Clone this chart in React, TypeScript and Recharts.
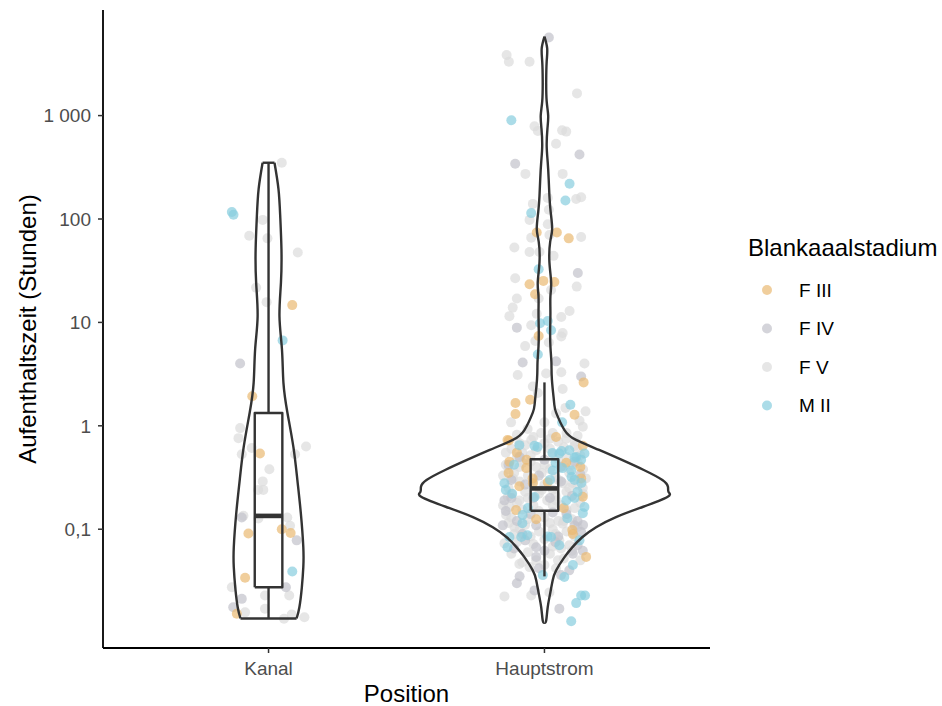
import React from 'react';
import { ScatterChart, Scatter, XAxis, YAxis, Legend } from 'recharts';

// ---------- data ----------
const categories = ['Kanal', 'Hauptstrom'];
const stadien = ['F III', 'F IV', 'F V', 'M II'];
const yTicks = [0.1, 1, 10, 100, 1000];
const yTickLabels = ['0,1', '1', '10', '100', '1 000'];

// [jitter (category units), Aufenthaltszeit (h), Stadium]
const kanalPoints: [number, number, string][] = [
  [0.048, 350, 'F V'], [-0.133, 117, 'M II'], [-0.127, 110, 'M II'], [-0.021, 98, 'F V'],
  [-0.07, 69, 'F V'], [-0.004, 65, 'F V'], [0.106, 47.5, 'F V'], [-0.045, 21.7, 'F V'],
  [-0.007, 15.7, 'F V'], [0.086, 14.7, 'F III'], [0.051, 6.7, 'M II'], [-0.103, 4.0, 'F IV'],
  [-0.059, 1.93, 'F III'], [-0.103, 0.95, 'F V'], [-0.109, 0.76, 'F V'], [-0.097, 0.53, 'F V'],
  [-0.061, 0.61, 'F V'], [-0.031, 0.54, 'F III'], [0.136, 0.63, 'F V'], [0.096, 0.53, 'F V'],
  [0.003, 0.38, 'F V'], [-0.021, 0.29, 'F V'], [-0.019, 0.24, 'F V'], [-0.038, 0.24, 'F V'],
  [-0.097, 0.13, 'F IV'], [-0.091, 0.135, 'F V'], [-0.037, 0.127, 'F V'], [0.068, 0.13, 'F V'],
  [0.078, 0.108, 'F V'], [0.048, 0.1, 'F III'], [0.08, 0.092, 'F III'], [-0.073, 0.091, 'F III'],
  [0.102, 0.078, 'F IV'], [0.086, 0.039, 'M II'], [-0.085, 0.034, 'F III'], [-0.133, 0.0275, 'F V'],
  [0.063, 0.0275, 'F IV'], [0.075, 0.0229, 'F V'], [-0.097, 0.0212, 'F IV'], [-0.013, 0.0229, 'F V'],
  [-0.013, 0.017, 'F V'], [-0.128, 0.0176, 'F IV'], [-0.115, 0.0152, 'F III'], [-0.085, 0.0157, 'F V'],
  [0.056, 0.0136, 'F V'], [0.084, 0.015, 'F V'], [0.13, 0.0141, 'F V'],
];

const hauptPoints: [number, number, string][] = [
  [0.016, 5700, 'F IV'], [-0.137, 3850, 'F V'], [-0.129, 3320, 'F V'], [-0.054, 3320, 'F V'],
  [0.118, 1640, 'F V'], [-0.12, 900, 'M II'], [-0.036, 787, 'F V'], [-0.024, 710, 'F V'],
  [0.064, 720, 'F V'], [0.079, 700, 'F V'], [0.042, 535, 'F V'], [0.127, 421, 'F IV'],
  [-0.106, 342, 'F IV'], [-0.069, 273, 'F V'], [0.066, 273, 'F V'], [0.091, 219, 'M II'],
  [0.012, 160, 'F V'], [0.076, 151, 'M II'], [0.115, 156, 'F V'], [0.133, 162, 'F V'],
  [-0.042, 140, 'F V'], [-0.048, 114, 'M II'], [-0.054, 98, 'F V'], [0.016, 123, 'F V'],
  [0.012, 89, 'F V'], [-0.028, 74, 'F III'], [0.045, 74, 'F III'], [-0.048, 66, 'F V'],
  [0.018, 70, 'F V'], [0.088, 65, 'F III'], [0.133, 67, 'F V'], [-0.109, 53, 'F V'],
  [-0.054, 48, 'F V'], [-0.018, 48, 'F V'], [0.033, 44, 'F V'], [-0.021, 32.7, 'M II'],
  [0.121, 30, 'F IV'], [-0.106, 26.7, 'F V'], [-0.054, 23.4, 'F III'], [-0.004, 25.2, 'F III'],
  [0.036, 24.6, 'F III'], [0.024, 20.6, 'F V'], [0.117, 22.2, 'F V'], [-0.034, 18.7, 'F III'],
  [-0.021, 17, 'F V'], [-0.1, 17, 'F V'], [-0.115, 13.9, 'F V'], [0.091, 12.9, 'F V'],
  [-0.127, 11.5, 'F V'], [0.061, 11.3, 'F V'], [-0.028, 12.1, 'F V'], [-0.016, 9.8, 'M II'],
  [0.012, 10.3, 'M II'], [0.024, 8.4, 'M II'], [-0.048, 9.4, 'F V'], [-0.1, 8.9, 'F IV'],
  [0.066, 7.9, 'F V'], [0.061, 7.3, 'F V'], [-0.021, 7.4, 'F III'], [-0.033, 6.6, 'F V'],
  [0.016, 6.4, 'F V'], [-0.07, 5.9, 'F V'], [-0.024, 4.9, 'M II'], [-0.079, 4.1, 'F IV'],
  [0.042, 4.2, 'F IV'], [0.145, 4.0, 'F V'], [-0.097, 3.1, 'F V'], [0.006, 3.2, 'F V'],
  [0.061, 3.3, 'F V'], [0.133, 3.0, 'F IV'], [0.142, 2.63, 'F III'], [-0.042, 2.4, 'F V'],
  [-0.024, 2.08, 'F V'], [0.066, 2.27, 'F V'], [-0.052, 1.79, 'F III'], [-0.105, 1.66, 'F III'],
  [-0.105, 1.3, 'F III'], [0.094, 1.6, 'M II'], [0.109, 1.28, 'F III'], [0.149, 1.38, 'F V'],
  [0.042, 1.32, 'F V'], [0.076, 1.49, 'F V'],
  // dense core
  [-0.121, 1.08, 'F V'], [0.064, 1.08, 'M II'], [0.127, 1.12, 'F V'], [0.139, 0.98, 'F V'],
  [0.0, 1.08, 'F V'], [-0.061, 0.93, 'F V'], [-0.012, 0.85, 'F V'], [0.03, 0.85, 'F V'],
  [-0.048, 0.73, 'F V'], [-0.129, 0.72, 'F III'], [-0.091, 0.68, 'F V'], [-0.036, 0.64, 'M II'],
  [0.042, 0.78, 'F III'], [0.079, 0.75, 'F V'], [0.109, 0.64, 'F V'], [0.139, 0.64, 'F III'],
  [0.054, 0.54, 'M II'], [0.115, 0.5, 'M II'], [0.145, 0.54, 'M II'], [0.133, 0.47, 'M II'],
  [-0.127, 0.45, 'F III'], [-0.091, 0.5, 'F V'], [-0.091, 0.4, 'F V'], [-0.066, 0.39, 'F III'],
  [0.079, 0.44, 'F III'], [0.03, 0.37, 'M II'], [0.097, 0.37, 'M II'], [0.133, 0.31, 'F III'],
  [-0.145, 0.278, 'M II'], [-0.115, 0.31, 'F V'], [-0.091, 0.26, 'F III'], [-0.042, 0.278, 'F III'],
  [0.012, 0.285, 'F III'], [0.066, 0.278, 'F V'], [0.109, 0.3, 'M II'], [0.139, 0.25, 'F V'],
  [-0.133, 0.206, 'F V'], [-0.145, 0.19, 'F IV'], [-0.091, 0.19, 'F V'], [-0.117, 0.22, 'M II'],
  [0.042, 0.19, 'F V'], [0.079, 0.19, 'M II'], [0.109, 0.2, 'M II'], [0.139, 0.206, 'F III'],
  [0.145, 0.164, 'M II'], [-0.103, 0.153, 'F III'], [-0.127, 0.164, 'F V'], [-0.079, 0.137, 'M II'],
  [-0.139, 0.137, 'F V'], [0.079, 0.148, 'F V'], [0.139, 0.143, 'M II'], [-0.151, 0.109, 'F IV'],
  [-0.109, 0.105, 'F V'], [-0.03, 0.109, 'F IV'], [0.066, 0.113, 'F V'], [0.109, 0.109, 'F IV'],
  [0.133, 0.094, 'F IV'], [-0.127, 0.084, 'M II'], [-0.084, 0.084, 'M II'], [0.024, 0.084, 'M II'],
  [0.054, 0.078, 'F V'], [0.103, 0.09, 'F III'], [0.127, 0.078, 'M II'], [-0.145, 0.073, 'F V'],
  [-0.03, 0.067, 'F IV'], [0.103, 0.058, 'F IV'], [0.139, 0.062, 'F IV'], [0.151, 0.054, 'F III'],
  [-0.091, 0.046, 'F V'], [-0.03, 0.054, 'F IV'], [0.049, 0.05, 'F V'], [-0.054, 0.043, 'F V'],
  [0.103, 0.045, 'M II'], [0.042, 0.042, 'F V'], [-0.006, 0.036, 'M II'], [0.072, 0.0345, 'M II'],
  [-0.145, 0.0224, 'F V'], [-0.036, 0.0256, 'F IV'], [0.018, 0.0245, 'F V'], [-0.048, 0.0229, 'F V'],
  [0.133, 0.0229, 'M II'], [0.147, 0.0229, 'M II'], [0.115, 0.0193, 'M II'], [0.054, 0.017, 'F IV'],
  [0.097, 0.0129, 'M II'],
  [-0.025, 0.625, 'M II'], [-0.091, 0.65, 'M II'], [-0.036, 0.205, 'M II'], [0.065, 0.39, 'M II'],
  [0.109, 0.49, 'M II'], [0.098, 0.32, 'M II'], [0.134, 0.28, 'M II'], [0.083, 0.128, 'M II'],
  [-0.08, 0.114, 'M II'], [-0.062, 0.0875, 'M II'], [0.011, 0.085, 'M II'], [-0.134, 0.067, 'M II'],
  [0.054, 0.07, 'M II'], [0.029, 0.547, 'M II'], [0.062, 0.57, 'M II'],
  [-0.11, 0.42, 'M II'], [0.04, 0.44, 'M II'], [-0.14, 0.24, 'M II'], [0.12, 0.23, 'M II'],
  [-0.06, 0.16, 'M II'], [0.02, 0.3, 'M II'], [0.09, 0.58, 'M II'],
  [-0.134, 0.73, 'F III'], [-0.065, 0.47, 'F III'], [-0.043, 0.31, 'F III'], [0.101, 0.098, 'F III'],
  [-0.1, 0.55, 'F III'], [-0.13, 0.35, 'F III'], [0.13, 0.4, 'F III'], [0.07, 0.16, 'F III'],
  [-0.03, 0.125, 'F III'],
  [-0.12, 0.6, 'F V'], [-0.08, 0.55, 'F V'], [-0.03, 0.58, 'F V'], [0.02, 0.6, 'F V'],
  [0.07, 0.62, 'F V'], [0.12, 0.58, 'F V'], [-0.14, 0.42, 'F V'], [-0.05, 0.45, 'F V'],
  [0.0, 0.42, 'F V'], [0.05, 0.48, 'F V'], [0.1, 0.42, 'F V'], [-0.11, 0.35, 'F V'],
  [-0.06, 0.33, 'F V'], [-0.01, 0.35, 'F V'], [0.04, 0.32, 'F V'], [0.09, 0.35, 'F V'],
  [0.14, 0.38, 'F V'], [-0.13, 0.25, 'F V'], [-0.07, 0.23, 'F V'], [-0.02, 0.22, 'F V'],
  [0.03, 0.24, 'F V'], [0.08, 0.23, 'F V'], [0.12, 0.27, 'F V'], [-0.1, 0.18, 'F V'],
  [-0.04, 0.17, 'F V'], [0.01, 0.19, 'F V'], [0.06, 0.17, 'F V'], [0.11, 0.16, 'F V'],
  [-0.12, 0.13, 'F V'], [-0.06, 0.125, 'F V'], [0.0, 0.13, 'F V'], [0.05, 0.12, 'F V'],
  [0.1, 0.125, 'F V'], [-0.09, 0.1, 'F V'], [-0.02, 0.095, 'F V'], [0.03, 0.1, 'F V'],
  [0.08, 0.095, 'F V'], [-0.1, 0.075, 'F V'], [0.0, 0.08, 'F V'], [0.09, 0.07, 'F V'],
  [-0.06, 0.06, 'F V'], [0.02, 0.058, 'F V'], [0.06, 0.065, 'F V'], [-0.03, 0.05, 'F V'],
  [0.13, 0.05, 'F V'],
  [-0.14, 0.55, 'F V'], [-0.1, 0.5, 'F V'], [-0.05, 0.52, 'F V'], [0.03, 0.53, 'F V'],
  [0.08, 0.5, 'F V'], [0.13, 0.52, 'F V'], [-0.13, 0.38, 'F V'], [-0.08, 0.44, 'F V'],
  [-0.03, 0.4, 'F V'], [0.02, 0.38, 'F V'], [0.07, 0.41, 'F V'], [0.12, 0.44, 'F V'],
  [-0.15, 0.33, 'F V'], [-0.09, 0.29, 'F V'], [-0.04, 0.3, 'F V'], [0.0, 0.27, 'F V'],
  [0.05, 0.3, 'F V'], [0.1, 0.28, 'F V'], [0.15, 0.31, 'F V'], [-0.12, 0.22, 'F V'],
  [-0.06, 0.2, 'F V'], [-0.01, 0.24, 'F V'], [0.04, 0.21, 'F V'], [0.09, 0.25, 'F V'],
  [0.14, 0.22, 'F V'], [-0.15, 0.17, 'F V'], [-0.08, 0.155, 'F V'], [-0.02, 0.15, 'F V'],
  [0.03, 0.17, 'F V'], [0.08, 0.155, 'F V'], [0.13, 0.18, 'F V'], [-0.13, 0.115, 'F V'],
  [-0.07, 0.11, 'F V'], [0.02, 0.115, 'F V'], [0.07, 0.12, 'F V'], [0.12, 0.105, 'F V'],
  [-0.11, 0.09, 'F V'], [-0.05, 0.085, 'F V'], [0.04, 0.09, 'F V'], [0.11, 0.085, 'F V'],
  [-0.12, 0.058, 'F V'], [-0.04, 0.072, 'F V'], [0.03, 0.068, 'F V'], [0.1, 0.062, 'F V'],
  [-0.08, 0.048, 'F V'], [0.0, 0.045, 'F V'], [0.07, 0.052, 'F V'], [-0.1, 0.82, 'F V'],
  [-0.04, 0.78, 'F V'], [0.02, 0.75, 'F V'], [0.08, 0.85, 'F V'], [0.12, 0.8, 'F V'],
  [-0.07, 0.65, 'F V'], [0.0, 0.68, 'F V'], [0.05, 0.7, 'F V'], [0.11, 0.7, 'F V'],
  [-0.09, 0.5, 'F IV'], [0.0, 0.47, 'F IV'], [0.11, 0.45, 'F IV'], [-0.12, 0.3, 'F IV'],
  [0.06, 0.29, 'F IV'], [-0.04, 0.2, 'F IV'], [0.1, 0.21, 'F IV'], [-0.14, 0.15, 'F IV'],
  [0.03, 0.145, 'F IV'], [0.12, 0.12, 'F IV'], [-0.08, 0.09, 'F IV'], [0.05, 0.085, 'F IV'],
  [-0.11, 0.065, 'F IV'], [0.0, 0.062, 'F IV'], [0.09, 0.04, 'F IV'],
  [-0.13, 0.42, 'F IV'], [0.06, 0.4, 'F IV'], [-0.02, 0.33, 'F IV'], [0.13, 0.34, 'F IV'],
  [-0.07, 0.27, 'F IV'], [0.02, 0.2, 'F IV'], [-0.12, 0.2, 'F IV'], [0.08, 0.14, 'F IV'],
  [-0.05, 0.14, 'F IV'], [0.14, 0.11, 'F IV'], [-0.1, 0.12, 'F IV'], [0.04, 0.075, 'F IV'],
  [-0.07, 0.078, 'F IV'], [0.12, 0.07, 'F IV'], [-0.02, 0.042, 'F IV'], [0.06, 0.036, 'F IV'],
  [-0.09, 0.035, 'F IV'], [-0.1, 0.03, 'F IV'],
];

// violin density profiles (relative width, 1 = widest violin)
const kanalViolinValues = [0.0137, 0.0175, 0.0273, 0.043, 0.067, 0.143, 0.3, 0.625, 1.34, 2.6, 5.5, 11.4, 24.4, 51, 107, 195, 350];
const kanalViolinDensity = [0.226, 0.248, 0.268, 0.28, 0.28, 0.26, 0.232, 0.2, 0.152, 0.12, 0.108, 0.088, 0.1, 0.104, 0.094, 0.08, 0.048];

const hauptViolinValues = [
  0.0125, 0.0131, 0.0175, 0.0239, 0.032, 0.04, 0.0534, 0.0668, 0.0836, 0.1045, 0.131, 0.164,
  0.205, 0.229, 0.256, 0.299, 0.374, 0.468, 0.585, 0.731, 0.914, 1.34, 1.67, 2.8, 4.09,
  5.85, 8.55, 12.5, 17.9, 24.4, 38.3, 60, 80, 117, 167, 244, 357, 512, 748, 1000, 1370,
  2140, 3340, 4470, 5800,
];
const hauptViolinDensity = [
  0.0, 0.014, 0.026, 0.046, 0.066, 0.094, 0.16, 0.224, 0.304, 0.416, 0.576, 0.79,
  0.99, 1.0, 0.995, 0.95, 0.8, 0.624, 0.44, 0.254, 0.16, 0.094, 0.078, 0.06, 0.056,
  0.048, 0.046, 0.048, 0.048, 0.054, 0.04, 0.046, 0.062, 0.05, 0.04, 0.034, 0.026, 0.018, 0.024, 0.03, 0.018,
  0.014, 0.018, 0.022, 0.0,
];

// boxplot statistics per category
const boxMin = [0.0137, 0.035];
const boxQ1 = [0.0275, 0.151];
const boxMedian = [0.1345, 0.248];
const boxQ3 = [1.33, 0.475];
const boxMax = [350, 2.63];

// ---------- style ----------
const COLORS: Record<string, string> = {
  'F III': '#EAB972',
  'F IV': '#C2C2CA',
  'F V': '#DBDBDB',
  'M II': '#88CDDE',
};
const FONT = '"Liberation Sans", Arial, Helvetica, sans-serif';
const VIOLIN_MAX_HALF = 0.45;
const BOX_HALF = 0.05;
const LINE = '#333333';
const LW = 2.4;
const PR = 5;

type P = { x: number; y: number };

function violinSide(center: number, values: number[], density: number[], sign: number): P[] {
  return values.map((v, i) => ({ x: center + sign * density[i] * VIOLIN_MAX_HALF, y: v }));
}

function boxOutline(i: number): P[] {
  const c = i + 1;
  return [
    { x: c - BOX_HALF, y: boxQ1[i] },
    { x: c + BOX_HALF, y: boxQ1[i] },
    { x: c + BOX_HALF, y: boxQ3[i] },
    { x: c - BOX_HALF, y: boxQ3[i] },
    { x: c - BOX_HALF, y: boxQ1[i] },
  ];
}

const allPoints = [
  ...kanalPoints.map(([j, v, s]) => ({ x: 1 + j, y: v, s })),
  ...hauptPoints.map(([j, v, s]) => ({ x: 2 + j, y: v, s })),
];

const pointOrder = ['F V', 'F IV', 'F III', 'M II'];

const Nothing = () => <g />;

const kLast = kanalViolinValues.length - 1;
const violinSegments: { data: P[]; smooth: boolean }[] = [
  { data: violinSide(1, kanalViolinValues, kanalViolinDensity, -1), smooth: true },
  { data: violinSide(1, kanalViolinValues, kanalViolinDensity, 1), smooth: true },
  {
    data: [
      { x: 1 - kanalViolinDensity[0] * VIOLIN_MAX_HALF, y: kanalViolinValues[0] },
      { x: 1 + kanalViolinDensity[0] * VIOLIN_MAX_HALF, y: kanalViolinValues[0] },
    ],
    smooth: false,
  },
  {
    data: [
      { x: 1 - kanalViolinDensity[kLast] * VIOLIN_MAX_HALF, y: kanalViolinValues[kLast] },
      { x: 1 + kanalViolinDensity[kLast] * VIOLIN_MAX_HALF, y: kanalViolinValues[kLast] },
    ],
    smooth: false,
  },
  { data: violinSide(2, hauptViolinValues, hauptViolinDensity, -1), smooth: true },
  { data: violinSide(2, hauptViolinValues, hauptViolinDensity, 1), smooth: true },
];

const LegendBox = () => (
  <svg width={202} height={200} style={{ overflow: 'visible' }}>
    <text x={8} y={31} fontSize={24} fill="#000" fontFamily={FONT}>Blankaaalstadium</text>
    {stadien.map((s, i) => {
      const cy = 65 + i * 38.5;
      return (
        <g key={s}>
          <circle cx={27} cy={cy} r={PR} fill={COLORS[s]} fillOpacity={0.7} />
          <text x={59} y={cy + 6.8} fontSize={19} fill="#000" fontFamily={FONT}>{s}</text>
        </g>
      );
    })}
  </svg>
);

export default function App() {
  const lineStyle = { stroke: LINE, strokeWidth: LW, fill: 'none', strokeLinejoin: 'round' as const };
  const medStyle = { stroke: LINE, strokeWidth: 4.6, fill: 'none' };
  const common = {
    shape: Nothing,
    fill: LINE,
    stroke: LINE,
    legendType: 'none' as const,
    isAnimationActive: false,
  };
  return (
    <div style={{ position: 'absolute', left: 0, top: 0, fontFamily: FONT, background: '#fff' }}>
      <ScatterChart width={942} height={706} margin={{ top: 10, right: 232, bottom: 0, left: 0 }}>
        <XAxis
          type="number"
          dataKey="x"
          domain={[0.4, 2.6]}
          allowDataOverflow
          ticks={[1, 2]}
          tickFormatter={(v: number) => categories[Math.round(v) - 1]}
          height={58}
          axisLine={{ stroke: '#000', strokeWidth: 1.8 }}
          tickLine={{ stroke: '#333', strokeWidth: 1.5 }}
          tickSize={5}
          tickMargin={9}
          tick={{ fill: '#4D4D4D', fontSize: 19, fontFamily: FONT }}
          label={{ value: 'Position', position: 'insideBottom', offset: 4, fill: '#000', fontSize: 24, fontFamily: FONT }}
        />
        <YAxis
          type="number"
          dataKey="y"
          scale="log"
          domain={[0.0071, 10500]}
          allowDataOverflow
          ticks={yTicks}
          tickFormatter={(v: number) => yTickLabels[yTicks.indexOf(v)] ?? String(v)}
          width={103}
          axisLine={{ stroke: '#000', strokeWidth: 1.8 }}
          tickLine={{ stroke: '#333', strokeWidth: 1.5 }}
          tickSize={5}
          tickMargin={7}
          tick={{ fill: '#4D4D4D', fontSize: 19, fontFamily: FONT }}
          label={{
            value: 'Aufenthaltszeit (Stunden)',
            angle: -90,
            position: 'insideLeft',
            offset: 27,
            fill: '#000',
            fontSize: 24,
            fontFamily: FONT,
            style: { textAnchor: 'middle' },
          }}
        />
        {pointOrder.map((s) => (
          <Scatter
            key={s}
            name={s}
            data={allPoints.filter((p) => p.s === s)}
            isAnimationActive={false}
            fill={COLORS[s]}
            shape={(props: any) => (
              <circle cx={props.cx} cy={props.cy} r={PR} fill={COLORS[s]} fillOpacity={0.7} />
            )}
          />
        ))}
        {violinSegments.map((seg, i) => (
          <Scatter
            key={'violin' + i}
            data={seg.data}
            line={lineStyle}
            strokeWidth={LW}
            lineJointType={seg.smooth ? 'natural' : 'linear'}
            {...common}
          />
        ))}
        {categories.map((c, i) => (
          <Scatter key={'box' + c} data={boxOutline(i)} line={lineStyle} strokeWidth={LW} {...common} />
        ))}
        {categories.map((c, i) => (
          <Scatter
            key={'wu' + c}
            data={[{ x: i + 1, y: boxQ3[i] }, { x: i + 1, y: boxMax[i] }]}
            line={lineStyle}
            strokeWidth={LW}
            {...common}
          />
        ))}
        {categories.map((c, i) => (
          <Scatter
            key={'wl' + c}
            data={[{ x: i + 1, y: boxQ1[i] }, { x: i + 1, y: boxMin[i] }]}
            line={lineStyle}
            strokeWidth={LW}
            {...common}
          />
        ))}
        {categories.map((c, i) => (
          <Scatter
            key={'med' + c}
            data={[{ x: i + 1 - BOX_HALF, y: boxMedian[i] }, { x: i + 1 + BOX_HALF, y: boxMedian[i] }]}
            line={medStyle}
            strokeWidth={4.6}
            {...common}
          />
        ))}
        <Legend
          layout="horizontal"
          verticalAlign="middle"
          align="center"
          wrapperStyle={{ left: 740, top: 225, width: 202, height: 200 }}
          content={() => <LegendBox />}
        />
      </ScatterChart>
    </div>
  );
}
